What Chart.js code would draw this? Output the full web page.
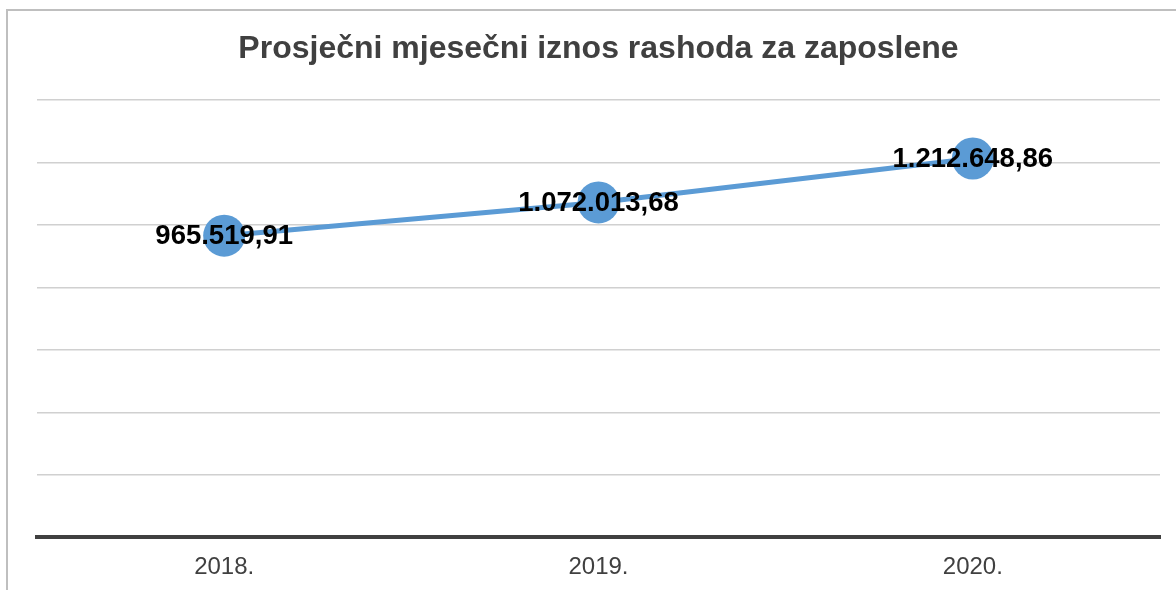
<!DOCTYPE html>
<html>
<head>
<meta charset="utf-8">
<script src="https://cdn.jsdelivr.net/npm/chart.js@4/dist/chart.umd.min.js"></script>
<style>
  html, body { margin: 0; padding: 0; background: #ffffff; overflow: hidden; width: 1176px; height: 590px; }
  #frame { position: absolute; left: 6px; top: 9px; width: 1400px; height: 800px; border: 2px solid #bfbfbf; box-sizing: border-box; }
  #wrap { position: absolute; left: 0; top: 0; width: 1181px; height: 590px; }
</style>
</head>
<body>
<div id="frame"></div>
<div id="wrap"><canvas id="c" width="1181" height="590"></canvas></div>
<script>
const chartTitle = 'Prosječni mjesečni iznos rashoda za zaposlene';
const categories = ['2018.', '2019.', '2020.'];
const values = [965519.91, 1072013.68, 1212648.86];
const yMin = 0;
const yMax = 1400000;
const yStep = 200000;

function formatHr(v) {
  const fixed = v.toFixed(2);
  const parts = fixed.split('.');
  const intPart = parts[0].replace(/\B(?=(\d{3})+(?!\d))/g, '.');
  return intPart + ',' + parts[1];
}

const dataLabelPlugin = {
  id: 'dataLabels',
  afterDatasetsDraw(chart) {
    const ctx = chart.ctx;
    const meta = chart.getDatasetMeta(0);
    ctx.save();
    ctx.font = 'bold 27.5px "Liberation Sans", Arial, sans-serif';
    ctx.fillStyle = '#000000';
    ctx.textAlign = 'center';
    ctx.textBaseline = 'middle';
    meta.data.forEach((pt, i) => {
      ctx.fillText(formatHr(chart.data.datasets[0].data[i]), pt.x, pt.y + 1);
    });
    ctx.restore();
  }
};

new Chart(document.getElementById('c'), {
  type: 'line',
  data: {
    labels: categories,
    datasets: [{
      data: values,
      borderColor: '#5b9bd5',
      backgroundColor: '#5b9bd5',
      borderWidth: 5,
      pointRadius: 21,
      pointHoverRadius: 21,
      pointBackgroundColor: '#5b9bd5',
      pointBorderWidth: 0,
      tension: 0,
      fill: false
    }]
  },
  options: {
    responsive: false,
    animation: false,
    events: [],
    layout: { padding: { left: 37, right: 21, top: 0, bottom: -8 } },
    plugins: {
      legend: { display: false },
      tooltip: { enabled: false },
      title: {
        display: true,
        text: chartTitle,
        color: '#404040',
        font: { family: '"Liberation Sans", Arial, sans-serif', size: 32, weight: 'bold', lineHeight: 1.2 },
        padding: { top: 29.8, bottom: 31.8 }
      }
    },
    scales: {
      x: {
        type: 'category',
        offset: true,
        grid: { display: false, drawTicks: false },
        border: { display: true, color: '#404040', width: 4 },
        ticks: {
          color: '#404040',
          padding: 16,
          font: { family: '"Liberation Sans", Arial, sans-serif', size: 24, lineHeight: 1.2 }
        }
      },
      y: {
        min: yMin,
        max: yMax,
        ticks: { display: false, stepSize: yStep },
        grid: { color: '#d0d0d0', lineWidth: 1.5, drawTicks: false },
        border: { display: false }
      }
    }
  },
  plugins: [dataLabelPlugin]
});
</script>
</body>
</html>
